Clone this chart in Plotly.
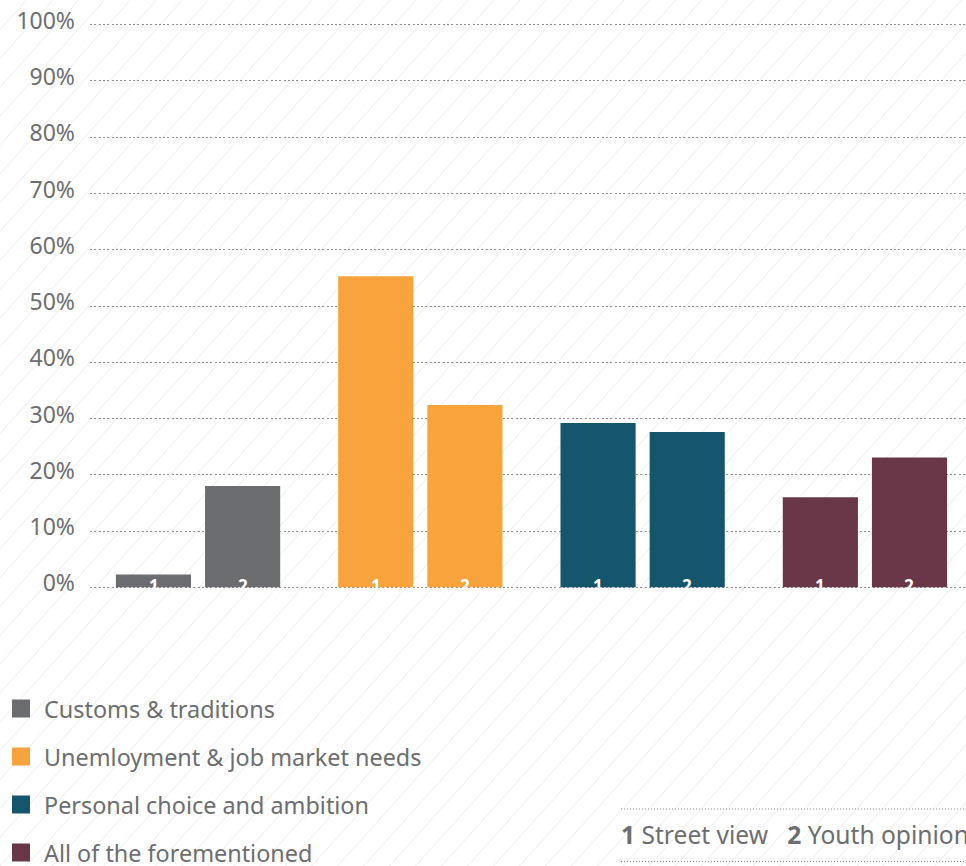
import base64
import plotly.graph_objects as go

# ---------------- data ----------------
categories = ["Customs & traditions", "Unemloyment & job market needs",
              "Personal choice and ambition", "All of the forementioned"]
street_view = [2.3, 55.3, 29.2, 16.0]      # series 1
youth_opinion = [18.0, 32.4, 27.6, 23.1]   # series 2
series_names = ["1", "2"]
cat_colors = ["#6c6d70", "#f8a33b", "#15566c", "#6a3749"]
tick_values = [0, 10, 20, 30, 40, 50, 60, 70, 80, 90, 100]
tick_labels = ["0%", "10%", "20%", "30%", "40%", "50%", "60%", "70%", "80%", "90%", "100%"]
note_text = "<b>1</b> Street view\u00a0\u00a0\u00a0<b>2</b> Youth opinion"

# ---------------- layout constants ----------------
W, H = 966, 866
ML, MR, MT, MB = 90, 0, 19, 273
PW, PH = W - ML - MR, H - MT - MB
TXT = "#6d6e71"
FONT = "Noto Sans"


def px_x(px):
    return (px - ML) / PW


def px_y(py):
    return (H - MB - py) / PH


fig = go.Figure()
for name, vals in zip(series_names, [street_view, youth_opinion]):
    fig.add_trace(go.Bar(
        x=categories, y=vals, name=name,
        marker=dict(color=cat_colors, line=dict(width=0)),
        showlegend=False, hoverinfo="x+y",
    ))

# bar number labels at the foot of each bar
for i, cat in enumerate(categories):
    for j, lab in enumerate(series_names):
        fig.add_annotation(
            x=cat, y=0, xref="x", yref="y", text=f"<b>{lab}</b>",
            showarrow=False, xshift=(-44.5 if j == 0 else 44.5), yshift=2,
            yanchor="middle", font=dict(family=FONT, size=17, color="white"),
        )

# hatch background as an svg pattern image
svg = (f'<svg xmlns="http://www.w3.org/2000/svg" width="{W}" height="{H}">'
       '<defs><pattern id="h" patternUnits="userSpaceOnUse" width="19.3" height="20" '
       'patternTransform="rotate(42)">'
       '<line x1="0" y1="0" x2="0" y2="20" stroke="#ececec" stroke-width="1.5"/>'
       '</pattern></defs>'
       f'<rect width="{W}" height="{H}" fill="url(#h)"/></svg>')
src = "data:image/svg+xml;base64," + base64.b64encode(svg.encode()).decode()
fig.add_layout_image(dict(
    source=src, xref="paper", yref="paper",
    x=px_x(0), y=px_y(0), sizex=W / PW, sizey=H / PH,
    xanchor="left", yanchor="top", sizing="stretch", layer="below",
))

# custom legend
leg_y = [708.5, 756.5, 804.5, 852.5]
shapes = []
for cat, col, yc in zip(categories, cat_colors, leg_y):
    shapes.append(dict(type="rect", xref="paper", yref="paper",
                       x0=px_x(12), x1=px_x(30), y0=px_y(yc + 9), y1=px_y(yc - 9),
                       fillcolor=col, line=dict(width=0)))
    fig.add_annotation(x=px_x(42), y=px_y(yc), xref="paper", yref="paper",
                       text=cat, showarrow=False, xanchor="left", yanchor="middle",
                       font=dict(family=FONT, size=23.4, color=TXT))

# series key at bottom right
for yy in [809, 861.5]:
    shapes.append(dict(type="line", xref="paper", yref="paper",
                       x0=px_x(621), x1=px_x(966), y0=px_y(yy), y1=px_y(yy),
                       line=dict(color="#8c8c8c", width=1, dash="1px,2px")))
fig.add_annotation(x=px_x(619), y=px_y(835), xref="paper", yref="paper",
                   text=note_text, showarrow=False, xanchor="left", yanchor="middle",
                   font=dict(family=FONT, size=24.6, color=TXT))

fig.update_layout(
    width=W, height=H,
    margin=dict(l=ML, r=MR, t=MT, b=MB, pad=0),
    paper_bgcolor="white", plot_bgcolor="rgba(0,0,0,0)",
    barmode="group", bargap=0.198, bargroupgap=0.157,
    shapes=shapes,
    font=dict(family=FONT, color=TXT),
    xaxis=dict(range=[-0.486, -0.486 + PW / 222.3], showticklabels=False,
               showgrid=False, zeroline=False, showline=False, ticks=""),
    yaxis=dict(range=[-1, 101], tickmode="array", tickvals=tick_values,
               ticktext=tick_labels,
               showgrid=True, gridcolor="#8c8c8c", gridwidth=1, griddash="2px,2.3px",
               zeroline=False, showline=False, ticks="",
               ticklabelstandoff=14, ticklabelshift=-4,
               tickfont=dict(family=FONT, size=23, color=TXT)),
)

fig.write_html("out.html", config={"displayModeBar": False},
               post_script="document.body.style.margin='0';document.body.style.padding='0';")
